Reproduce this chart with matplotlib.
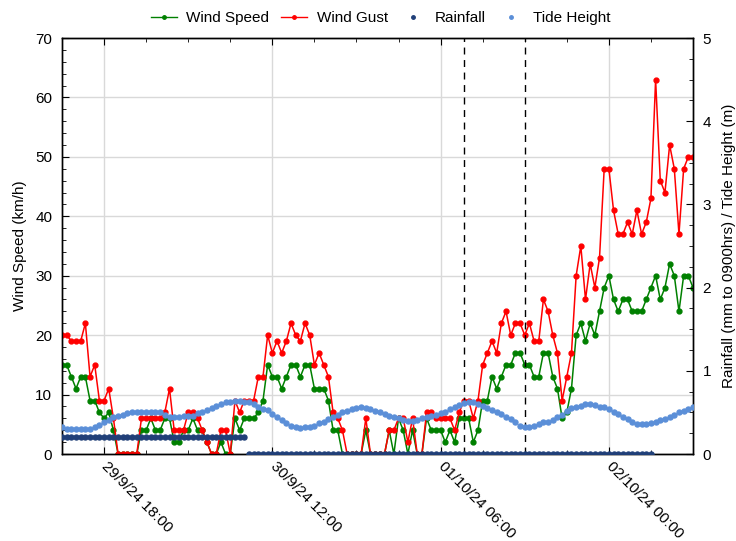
import matplotlib
matplotlib.use('Agg')
import matplotlib.pyplot as plt
import matplotlib.ticker as mticker
import matplotlib.dates as mdates
import numpy as np
import pandas as pd
from matplotlib.lines import Line2D

plt.rcParams['font.family'] = ['Liberation Sans', 'DejaVu Sans']

# ---------------- data ----------------
times = pd.date_range('2024-09-29 13:30', periods=136, freq='30min')

wind_speed = [15, 15, 13, 11, 13, 13, 9, 9, 7, 6, 7, 4,
              0, 0, 0, 0, 0,
              4, 4, 6, 4, 4, 6, 6,
              2, 2, 4, 4, 6, 4, 4, 2,
              0, 0, 2, 0, 0,
              6, 4, 6, 6, 6, 7, 9,
              15, 13, 13, 11, 13, 15, 15, 13, 15, 15,
              11, 11, 11, 9, 4, 4, 0,
              0, 0, 0, 0, 4, 0,
              0, 0, 0, 4, 0, 6, 4, 0, 4, 0, 0,
              6, 4, 4, 4, 2, 4, 2, 6, 6, 6, 2, 4, 9,
              9, 13, 11, 13, 15, 15, 17, 17, 15, 15, 13, 13, 17, 17, 13, 11, 6, 7, 11, 20, 22,
              19, 22, 20, 24, 28, 30, 26, 24, 26, 26, 24, 24, 24, 26, 28, 30, 26, 28, 32, 30, 24, 30, 30, 28]

wind_gust = [20, 20, 19, 19, 19, 22, 13, 15, 9, 9, 11, 6,
             0, 0, 0, 0, 0,
             6, 6, 6, 6, 6, 7, 11,
             4, 4, 4, 7, 7, 6, 4, 2,
             0, 0, 4, 4, 0,
             9, 7, 9, 9, 9, 13, 13,
             20, 17, 19, 17, 19, 22, 20, 19, 22, 20,
             15, 17, 15, 13, 7, 6, 4,
             0, 0, 0, 0, 6, 0,
             0, 0, 0, 4, 4, 6, 6, 2, 6, 0, 0,
             7, 7, 6, 6, 6, 6, 4, 7, 9, 9, 6, 9, 15,
             17, 19, 17, 22, 24, 20, 22, 22, 20, 22, 19, 19, 26, 24, 20, 17, 9, 13, 17, 30, 35,
             26, 32, 28, 33, 48, 48, 41, 37, 37, 39, 37, 41, 37, 39, 43, 63, 46, 44, 52, 48, 37, 48, 50, 50]

rainfall = [0.2] * 40 + [0.0] * 87 + [np.nan] * 9

tide_height = [0.33, 0.30, 0.30, 0.30, 0.30, 0.30, 0.30, 0.33, 0.35, 0.38, 0.41, 0.44, 0.46, 0.47, 0.49,
               0.50, 0.50, 0.51, 0.51, 0.51, 0.50, 0.50, 0.47,
               0.45, 0.44, 0.45, 0.46, 0.46, 0.46, 0.49, 0.51, 0.53, 0.55, 0.58, 0.60, 0.63, 0.63, 0.64,
               0.64, 0.63, 0.62, 0.60, 0.57, 0.54, 0.53, 0.48,
               0.44, 0.41, 0.37, 0.34, 0.32, 0.31, 0.32, 0.33, 0.34, 0.37, 0.39, 0.42, 0.45, 0.47, 0.50,
               0.52, 0.54, 0.55, 0.56, 0.55, 0.54,
               0.52, 0.50, 0.48, 0.46, 0.44, 0.43, 0.41, 0.40, 0.40, 0.41, 0.43, 0.45, 0.46, 0.47, 0.49,
               0.51, 0.54, 0.57, 0.59, 0.61, 0.62, 0.62, 0.60, 0.58,
               0.55, 0.53, 0.50, 0.48, 0.45, 0.42, 0.38, 0.34, 0.32, 0.33, 0.34, 0.36, 0.38, 0.39, 0.41,
               0.44, 0.47, 0.52, 0.55, 0.57, 0.58, 0.60, 0.60,
               0.59, 0.57, 0.56, 0.54, 0.51, 0.48, 0.45, 0.42, 0.39, 0.36, 0.36, 0.36, 0.37, 0.39, 0.41,
               0.42, 0.45, 0.47, 0.50, 0.52, 0.54, 0.56]

event_times = ['2024-10-01 08:30', '2024-10-01 15:00']

tick_times = ['2024-09-29 18:00', '2024-09-30 12:00', '2024-10-01 06:00', '2024-10-02 00:00']
tick_labels = ['29/9/24 18:00', '30/9/24 12:00', '01/10/24 06:00', '02/10/24 00:00']

# ---------------- figure ----------------
W, H = 736, 541
fig = plt.figure(figsize=(W / 100, H / 100), dpi=100)
L, R, T, B = 62, 693, 38, 454
ax = fig.add_axes([L / W, 1 - B / H, (R - L) / W, (B - T) / H])
ax2 = ax.twinx()

c_speed = '#008000'
c_gust = '#ff0000'
c_rain = '#203f78'
c_tide = '#5b8fd8'

ax.plot(times, wind_speed, color=c_speed, lw=1.1, marker='o', ms=3.5, zorder=3)
ax.plot(times, wind_gust, color=c_gust, lw=1.1, marker='o', ms=3.5, zorder=3)
ax2.plot(times, rainfall, ls='none', marker='o', color=c_rain, ms=3.6, zorder=3)
ax2.plot(times, tide_height, ls='none', marker='o', color=c_tide, ms=3.6, zorder=3)

for t in event_times:
    ax.axvline(pd.Timestamp(t), color='black', lw=1.0, ls=(0, (5, 4)), zorder=4)

ax.set_xlim(times[0], times[-1])
ax.set_ylim(0, 70)
ax2.set_ylim(0, 5)

tick_nums = [mdates.date2num(pd.Timestamp(t)) for t in tick_times]
ax.xaxis.set_major_locator(mticker.FixedLocator(tick_nums))
ax.xaxis.set_minor_locator(mticker.MultipleLocator(0.1875))
ax.set_xticklabels(tick_labels, rotation=-45, ha='left', va='center', rotation_mode='anchor', fontsize=11)

ax.yaxis.set_major_locator(mticker.MultipleLocator(10))
ax.yaxis.set_minor_locator(mticker.MultipleLocator(2))
ax2.yaxis.set_major_locator(mticker.MultipleLocator(1))
ax2.yaxis.set_minor_locator(mticker.MultipleLocator(0.25))

ax.grid(True, which='major', color='#d9d9d9', lw=1.0)
ax.set_axisbelow(True)

ax.tick_params(axis='x', which='both', direction='in', top=True, bottom=True, pad=7)
ax.tick_params(axis='x', which='major', length=5)
ax.tick_params(axis='x', which='minor', length=3)
ax.tick_params(axis='y', which='both', direction='in', left=True, right=False, labelsize=11, pad=7)
ax.tick_params(axis='y', which='major', length=5)
ax.tick_params(axis='y', which='minor', length=3)
ax2.tick_params(axis='y', which='both', direction='in', labelsize=11, pad=7)
ax2.tick_params(axis='y', which='major', length=5)
ax2.tick_params(axis='y', which='minor', length=3)

for a in (ax, ax2):
    for s in a.spines.values():
        s.set_color('black')
        s.set_linewidth(1.0)

ax.set_ylabel('Wind Speed (km/h)', fontsize=11, labelpad=6)
ax2.set_ylabel('Rainfall (mm to 0900hrs) / Tide Height (m)', fontsize=11, labelpad=8)

handles = [
    Line2D([], [], color=c_speed, lw=1.0, marker='o', ms=2.5),
    Line2D([], [], color=c_gust, lw=1.0, marker='o', ms=2.5),
    Line2D([], [], color=c_rain, ls='none', marker='o', ms=2.5),
    Line2D([], [], color=c_tide, ls='none', marker='o', ms=2.5),
]
fig.legend(handles, ['Wind Speed', 'Wind Gust', 'Rainfall', 'Tide Height'],
           loc='center', bbox_to_anchor=(381 / W, 1 - 18 / H), ncol=4, frameon=False,
           fontsize=11, handlelength=1.7, handletextpad=0.6, columnspacing=0.8)

fig.savefig('out.png', dpi=100)
